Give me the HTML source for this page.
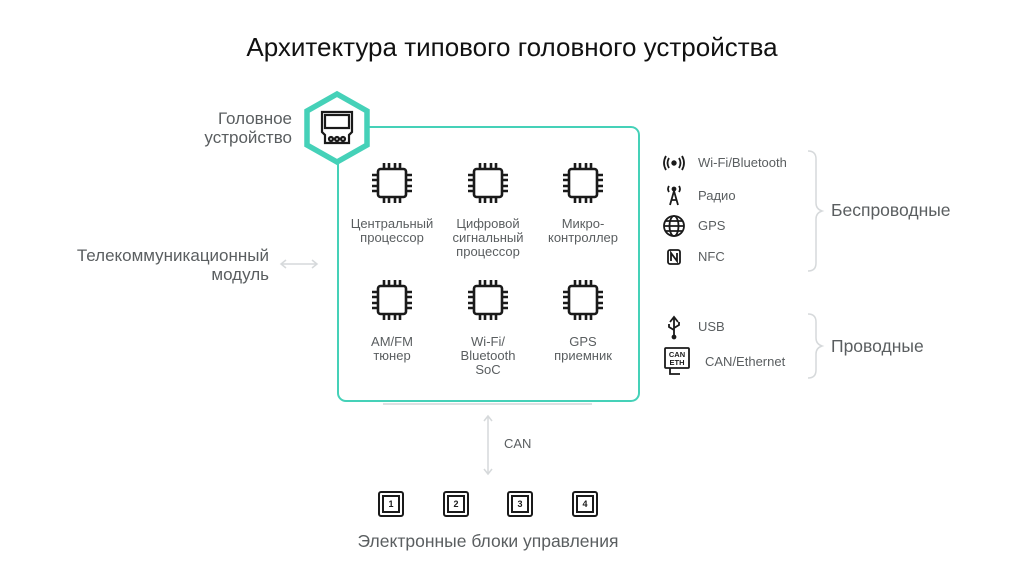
<!DOCTYPE html>
<html><head><meta charset="utf-8"><style>
body{margin:0;width:1024px;height:576px;background:#fff;position:relative;font-family:"Liberation Sans",sans-serif;overflow:hidden}
.t{position:absolute;color:#5a5e60;font-size:13px;text-align:center;line-height:14px}
.r{position:absolute;color:#5a5e60;font-size:13px}
</style></head><body>
<svg width="1024" height="576" style="position:absolute;left:0;top:0">
<defs>
<g id="chip" fill="none" stroke="#1a1a1a" stroke-width="2.6">
<rect x="-14" y="-14" width="28" height="28" rx="2.5"/>
<path d="M-8 -14v-6M-3 -14v-6M3 -14v-6M8 -14v-6M-8 14v6M-3 14v6M3 14v6M8 14v6M-14 -8h-6M-14 -3h-6M-14 3h-6M-14 8h-6M14 -8h6M14 -3h6M14 3h6M14 8h6"/>
</g>
<g id="ecu" fill="none" stroke="#1a1a1a"><rect x="-12" y="-12" width="24" height="24" rx="2" stroke-width="2"/><rect x="-8" y="-8" width="16" height="16" stroke-width="2"/></g>
</defs>
<rect x="338" y="127" width="301" height="274" rx="8" fill="none" stroke="#45d1b8" stroke-width="2"/>
<line x1="383" y1="404" x2="592" y2="404" stroke="#dde0e2" stroke-width="2"/>
<polygon points="337,94 367,111 367,145 337,162 307,145 307,111" fill="#fff" stroke="#45d1b8" stroke-width="5.5"/>
<g fill="none" stroke="#1a1a1a" stroke-width="2.2">
<path d="M322 112h30v20l-3 3v8h-24v-8l-3-3z"/><rect x="325" y="115" width="24" height="13"/>
<circle cx="331" cy="139" r="2"/><circle cx="337" cy="139" r="2"/><circle cx="343" cy="139" r="2"/>
</g>
<use href="#chip" x="392" y="183"/><use href="#chip" x="488" y="183"/><use href="#chip" x="583" y="183"/>
<use href="#chip" x="392" y="300"/><use href="#chip" x="488" y="300"/><use href="#chip" x="583" y="300"/>
<g stroke="#d6d9db" stroke-width="1.5" fill="none">
<path d="M281 264h36M286 260l-5 4 5 4M312 260l5 4-5 4"/>
<path d="M488 416v58M484 421l4-5 4 5M484 469l4 5 4-5"/>
<path d="M808 151q8 0 8 8v44q0 6 6 8q-6 2-6 8v44q0 8-8 8"/>
<path d="M808 314q8 0 8 8v16q0 6 6 8q-6 2-6 8v16q0 8-8 8"/>
</g>
<use href="#ecu" x="391" y="504"/><use href="#ecu" x="456" y="504"/><use href="#ecu" x="520" y="504"/><use href="#ecu" x="585" y="504"/>
<g font-size="9" font-weight="bold" text-anchor="middle" fill="#1a1a1a" font-family="Liberation Sans"><text x="391" y="507">1</text><text x="456" y="507">2</text><text x="520" y="507">3</text><text x="585" y="507">4</text></g>
<g fill="none" stroke="#1a1a1a" stroke-width="1.8">
<circle cx="674" cy="163" r="1.8" fill="#1a1a1a"/>
<path d="M669 158q-3 5 0 10M679 158q3 5 0 10M666 156q-4 7 0 14M682 156q4 7 0 14"/>
<path d="M670 205l4-14 4 14M671 200h6"/><circle cx="674" cy="189" r="1.5" fill="#1a1a1a"/>
<path d="M669 186q-2 3 0 6M679 186q2 3 0 6"/>
<circle cx="674" cy="226" r="10"/><ellipse cx="674" cy="226" rx="4.5" ry="10"/><path d="M664 226h20M666 221h16M666 231h16"/>
<rect x="668" y="250" width="12" height="14" rx="2"/><path d="M671 261v-8l6 8v-8"/>
<path d="M674 317v19M670 322l4-5 4 5M674 330l-5-3v-3M674 328l5-3v-3"/><circle cx="674" cy="337" r="1.5" fill="#1a1a1a"/>
<rect x="665" y="348" width="24" height="20" rx="1"/><path d="M670 368v6h10"/>
</g>
<g font-size="7.5" font-weight="bold" text-anchor="middle" fill="#1a1a1a" font-family="Liberation Sans"><text x="677" y="357">CAN</text><text x="677" y="365">ETH</text></g>
</svg>
<div style="position:absolute;left:0;width:1024px;top:32px;text-align:center;font-size:26px;color:#111">Архитектура типового головного устройства</div>
<div class="r" style="right:732px;top:109px;font-size:17px;text-align:right;line-height:19px">Головное<br>устройство</div>
<div class="r" style="right:755px;top:246px;font-size:17px;text-align:right;line-height:19px">Телекоммуникационный<br>модуль</div>
<div class="t" style="left:342px;width:100px;top:217px">Центральный<br>процессор</div>
<div class="t" style="left:438px;width:100px;top:217px">Цифровой<br>сигнальный<br>процессор</div>
<div class="t" style="left:533px;width:100px;top:217px">Микро-<br>контроллер</div>
<div class="t" style="left:342px;width:100px;top:335px">AM/FM<br>тюнер</div>
<div class="t" style="left:438px;width:100px;top:335px">Wi-Fi/<br>Bluetooth<br>SoC</div>
<div class="t" style="left:533px;width:100px;top:335px">GPS<br>приемник</div>
<div class="r" style="left:504px;top:436px">CAN</div>
<div class="r" style="left:0;width:976px;top:531px;text-align:center;font-size:17.5px">Электронные блоки управления</div>
<div class="r" style="left:698px;top:155px">Wi-Fi/Bluetooth</div>
<div class="r" style="left:698px;top:188px">Радио</div>
<div class="r" style="left:698px;top:218px">GPS</div>
<div class="r" style="left:698px;top:249px">NFC</div>
<div class="r" style="left:698px;top:319px">USB</div>
<div class="r" style="left:705px;top:354px">CAN/Ethernet</div>
<div class="r" style="left:831px;top:200px;font-size:17.5px">Беспроводные</div>
<div class="r" style="left:831px;top:336px;font-size:17.5px">Проводные</div>
</body></html>
